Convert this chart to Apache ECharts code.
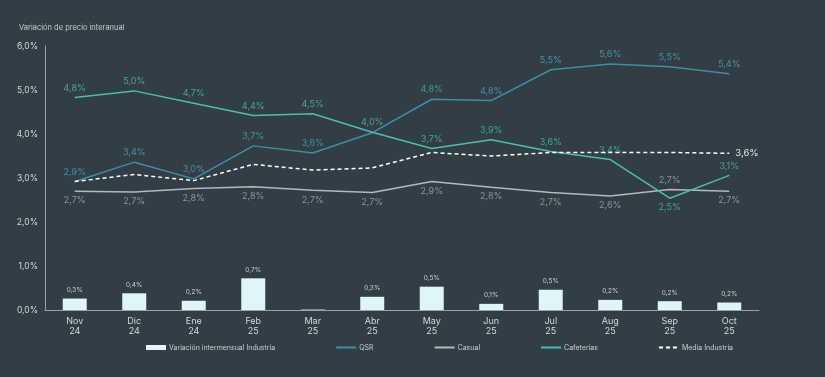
<!DOCTYPE html>
<html>
<head>
<meta charset="utf-8">
<script src="https://cdn.jsdelivr.net/npm/echarts@6/dist/echarts.min.js"></script>
<style>
html,body{margin:0;padding:0;background:#323e45;}
#c{width:825px;height:377px;}
</style>
</head>
<body>
<div id="c"></div>
<script>
const categories = ['Nov\n24','Dic\n24','Ene\n24','Feb\n25','Mar\n25','Abr\n25','May\n25','Jun\n25','Jul\n25','Aug\n25','Sep\n25','Oct\n25'];
const intermensual = [0.26, 0.38, 0.21, 0.72, 0.01, 0.30, 0.53, 0.14, 0.46, 0.23, 0.20, 0.17];
const qsr = [2.92, 3.36, 2.98, 3.73, 3.57, 4.03, 4.79, 4.76, 5.46, 5.59, 5.53, 5.37];
const casual = [2.70, 2.68, 2.76, 2.80, 2.72, 2.67, 2.92, 2.79, 2.67, 2.59, 2.74, 2.70];
const cafeterias = [4.83, 4.98, 4.70, 4.42, 4.46, 4.04, 3.67, 3.87, 3.60, 3.42, 2.54, 3.06];
const media = [2.92, 3.08, 2.94, 3.31, 3.18, 3.23, 3.58, 3.50, 3.58, 3.58, 3.58, 3.56];
const yTicks = [0, 1, 2, 3, 4, 5, 6];

const FONT = 'Inter, "Noto Sans", sans-serif';
const fmt = v => v.toFixed(1).replace('.', ',') + '%';

const hideSym = { opacity: 0 };
const chart = echarts.init(document.getElementById('c'));
chart.setOption({
  backgroundColor: '#323e45',
  animation: false,
  textStyle: { fontFamily: FONT },
  title: {
    text: 'Variación de precio interanual',
    left: 14, top: 19,
    textStyle: { color: '#c5cbce', fontSize: 7.5, fontWeight: 'normal', fontFamily: FONT }
  },
  grid: { left: 45, right: 66, top: 46, bottom: 67 },
  legend: {
    left: 141, top: 339,
    itemGap: 60, itemWidth: 20, itemHeight: 5,
    textStyle: { color: '#c8ced1', fontSize: 7, fontFamily: FONT, padding: [0, 0, 0, -2] },
    data: [
      { name: 'Variación intermensual Industria', icon: 'rect' },
      { name: 'QSR', itemStyle: hideSym },
      { name: 'Casual', itemStyle: hideSym },
      { name: 'Cafeterias', itemStyle: hideSym },
      { name: 'Media Industria', itemStyle: hideSym }
    ]
  },
  xAxis: {
    type: 'category',
    data: categories,
    boundaryGap: true,
    axisLine: { lineStyle: { color: '#9aa3a7', width: 1 } },
    axisTick: { show: false },
    axisLabel: { color: '#d3d8da', fontSize: 9, lineHeight: 10, margin: 6, fontFamily: FONT }
  },
  yAxis: {
    type: 'value',
    min: yTicks[0], max: yTicks[yTicks.length - 1], interval: 1,
    splitLine: { show: false },
    axisLine: { show: true, lineStyle: { color: '#9aa3a7', width: 1 } },
    axisTick: { show: false },
    axisLabel: { color: '#d3d8da', fontSize: 8.5, margin: 7, fontFamily: FONT, formatter: v => fmt(v) }
  },
  series: [
    {
      name: 'Variación intermensual Industria',
      type: 'bar',
      data: intermensual,
      barWidth: 24,
      itemStyle: { color: '#e0f5f8' },
      label: {
        show: true, position: 'top', distance: 5,
        color: '#c9d1d3', fontSize: 6.5, fontFamily: FONT,
        formatter: p => p.value < 0.05 ? '' : fmt(p.value)
      },
      z: 1
    },
    {
      name: 'QSR',
      type: 'line',
      data: qsr.map((v, i) => i === 5 ? { value: v, label: { show: false } } : v),
      symbol: 'circle', symbolSize: 0.1, showSymbol: true,
      lineStyle: { color: '#3f8ea1', width: 1.5 },
      itemStyle: { color: '#3f8ea1' },
      label: { show: true, position: 'top', distance: 5, color: '#4b8f9e', fontSize: 9, fontFamily: FONT, formatter: p => fmt(p.value) },
      z: 3
    },
    {
      name: 'Casual',
      type: 'line',
      data: casual.map((v, i) => i === 10 ? { value: v, label: { position: 'top' } } : v),
      symbol: 'circle', symbolSize: 0.1, showSymbol: true,
      lineStyle: { color: '#b3b9bc', width: 1.5 },
      itemStyle: { color: '#b3b9bc' },
      label: { show: true, position: 'bottom', distance: 5, color: '#8a9498', fontSize: 9, fontFamily: FONT, formatter: p => fmt(p.value) },
      z: 3
    },
    {
      name: 'Cafeterias',
      type: 'line',
      data: cafeterias.map((v, i) => i === 10 ? { value: v, label: { position: 'bottom' } } : v),
      symbol: 'circle', symbolSize: 0.1, showSymbol: true,
      lineStyle: { color: '#4cbdb0', width: 1.5 },
      itemStyle: { color: '#4cbdb0' },
      label: { show: true, position: 'top', distance: 5, color: '#47a398', fontSize: 9, fontFamily: FONT, formatter: p => fmt(p.value) },
      z: 3
    },
    {
      name: 'Media Industria',
      type: 'line',
      data: media.map((v, i) => i === media.length - 1 ? { value: v, label: { show: true } } : v),
      symbol: 'circle', symbolSize: 0.1, showSymbol: true,
      lineStyle: { color: '#ffffff', width: 1.5, type: [4, 3] },
      itemStyle: { color: '#ffffff' },
      label: { show: false, position: 'right', distance: 6, color: '#e4e7e8', fontSize: 9.5, fontFamily: FONT, formatter: p => fmt(p.value) },
      z: 4
    }
  ]
});
</script>
</body>
</html>
